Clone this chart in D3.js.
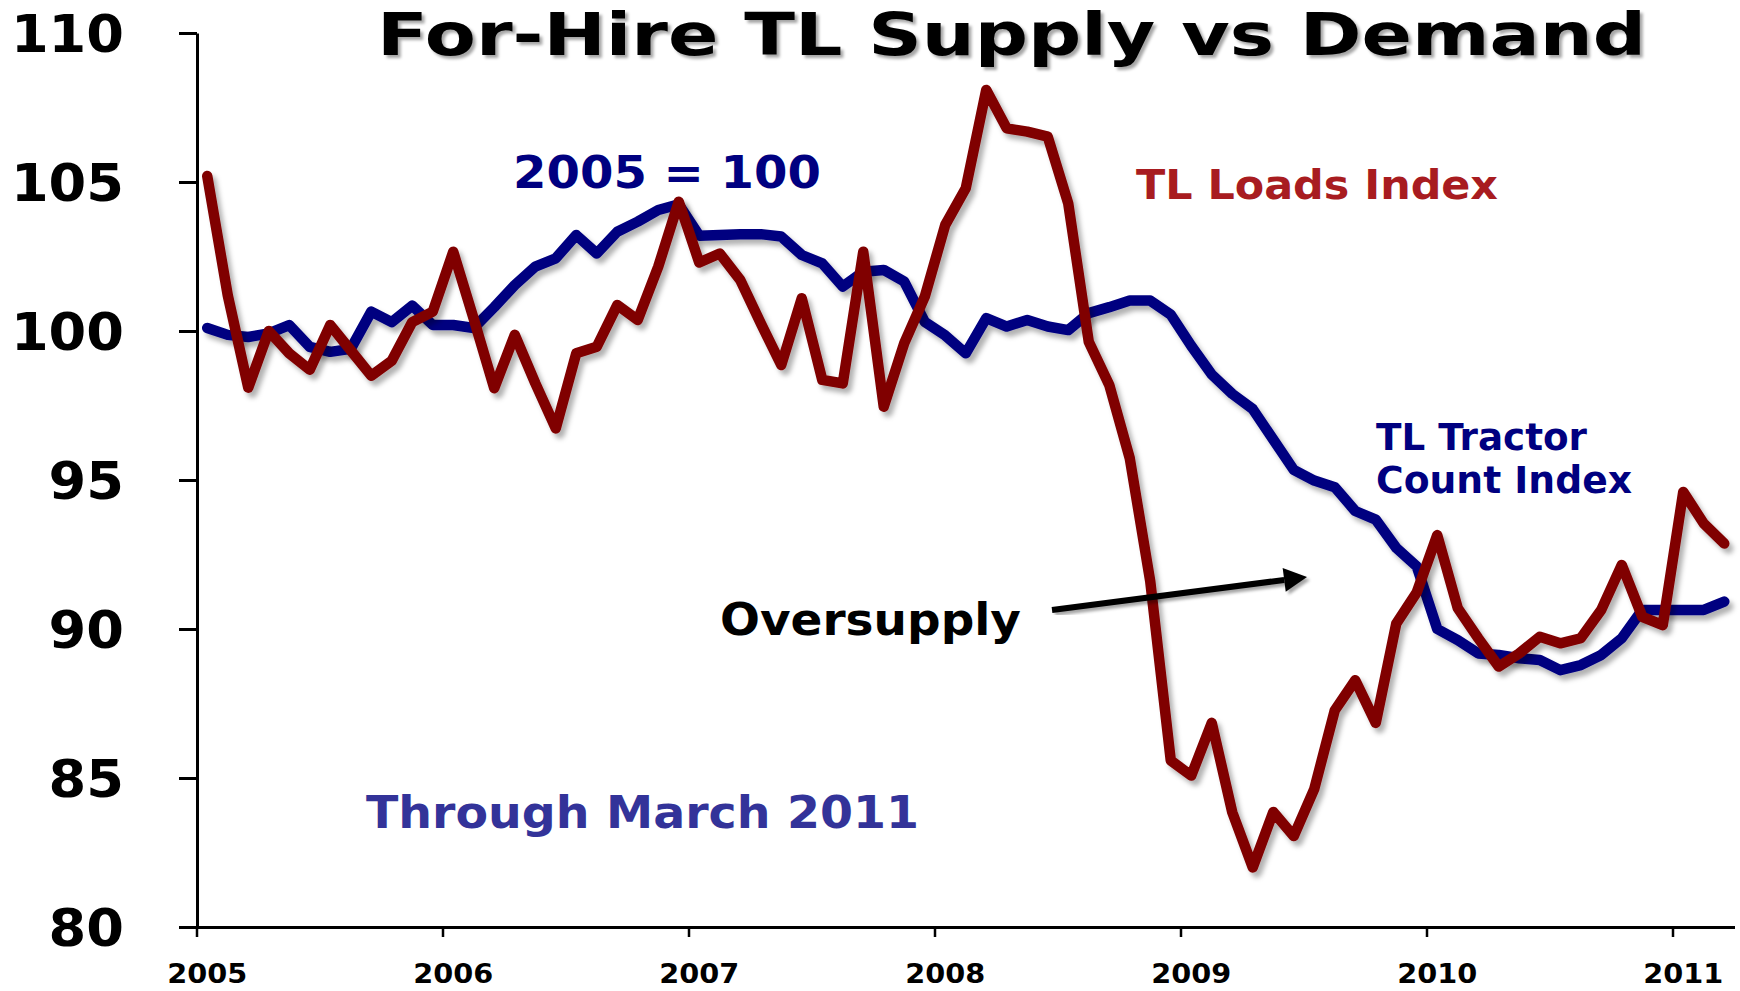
<!DOCTYPE html>
<html>
<head>
<meta charset="utf-8">
<script src="https://cdn.jsdelivr.net/npm/d3@7"></script>
<style>
    body { margin: 0; background: #fff; }
    svg { display: block; font-family: "DejaVu Sans", Verdana, sans-serif; font-weight: bold; }
</style>
</head>
<body>
<div class="chart-container"></div>
<script>
// Chart params
const width = 1740;
const height = 991;

// Year tick labels, monthly categories Jan 2005 .. Mar 2011
const years = ["2005", "2006", "2007", "2008", "2009", "2010", "2011"];
const monthNames = ["01", "02", "03", "04", "05", "06", "07", "08", "09", "10", "11", "12"];
const months = [];
years.forEach(yr => monthNames.forEach(m => months.push(yr + "-" + m)));
months.splice(75); // through March 2011

const yTicks = [80, 85, 90, 95, 100, 105, 110];

// TL Tractor Count Index (2005 = 100)
const tractorCount = [
    100.1, 99.87, 99.8, 99.92, 100.2, 99.47, 99.3, 99.4, 100.65, 100.3,
    100.85, 100.2, 100.2, 100.1, 100.8, 101.54, 102.16, 102.44, 103.22, 102.6,
    103.33, 103.67, 104.06, 104.25, 103.2, 103.22, 103.25, 103.25, 103.17, 102.55,
    102.27, 101.49, 101.99, 102.05, 101.66, 100.31, 99.85, 99.25, 100.43, 100.15,
    100.37, 100.15, 100.03, 100.6, 100.8, 101.02, 101.02, 100.55, 99.5, 98.54,
    97.89, 97.38, 96.36, 95.34, 94.98, 94.76, 93.96, 93.67, 92.72, 92.1,
    90.0, 89.63, 89.18, 89.13, 89.02, 88.96, 88.62, 88.79, 89.13, 89.69,
    90.64, 90.64, 90.64, 90.64, 90.92
];

// TL Loads Index (2005 = 100)
const loadsIndex = [
    105.2, 101.2, 98.1, 100.0, 99.25, 98.7, 100.2, 99.35, 98.5, 99.0,
    100.3, 100.65, 102.66, 100.4, 98.08, 99.87, 98.25, 96.73, 99.25, 99.47,
    100.87, 100.37, 102.16, 104.34, 102.3, 102.6, 101.71, 100.26, 98.86, 101.1,
    98.36, 98.24, 102.66, 97.46, 99.59, 101.15, 103.56, 104.79, 108.09, 106.8,
    106.69, 106.52, 104.28, 99.64, 98.19, 95.73, 91.6, 85.59, 85.08, 86.85,
    83.85, 82.0, 83.86, 83.05, 84.63, 87.27, 88.28, 86.85, 90.18, 91.23,
    93.15, 90.7, 89.69, 88.74, 89.18, 89.74, 89.52, 89.69, 90.64, 92.15,
    90.41, 90.13, 94.6, 93.54, 92.87
];

const svg = d3.select('.chart-container')
    .append('svg')
    .attr('width', width)
    .attr('height', height);

svg.append('rect')
    .attr('width', width)
    .attr('height', height)
    .attr('fill', '#fff');

// Shadows
const defs = svg.append('defs');
defs.append('filter')
    .attr('id', 'lineShadow')
    .attr('x', '-10%').attr('y', '-10%')
    .attr('width', '120%').attr('height', '120%')
    .append('feDropShadow')
    .attr('dx', 4).attr('dy', 5)
    .attr('stdDeviation', 2.5)
    .attr('flood-color', '#000')
    .attr('flood-opacity', 0.3);

defs.append('filter')
    .attr('id', 'textShadow')
    .append('feDropShadow')
    .attr('dx', 3).attr('dy', 3)
    .attr('stdDeviation', 1.5)
    .attr('flood-color', '#000')
    .attr('flood-opacity', 0.35);

// Scales
const x = d3.scaleBand()
    .domain(months)
    .range([197, 1734.5]);

const y = d3.scaleLinear()
    .domain([80, 110])
    .range([927, 33]);

const xc = m => x(m) + x.bandwidth() / 2;

// Y axis
const yAxis = svg.append('g')
    .attr('transform', 'translate(197,0)')
    .call(d3.axisLeft(y)
        .tickValues(yTicks)
        .tickSize(18)
        .tickSizeOuter(0)
        .tickPadding(55));

yAxis.select('.domain').attr('stroke', '#000').attr('stroke-width', 3);
yAxis.selectAll('.tick line').attr('stroke', '#000').attr('stroke-width', 3);
yAxis.selectAll('.tick text')
    .attr('fill', '#000')
    .attr('font-family', '"DejaVu Sans", Verdana, sans-serif')
    .attr('font-weight', 'bold')
    .attr('font-size', 51)
    .attr('dy', '0.36em')
    .attr('textLength', d => String(d).length * 37.7)
    .attr('lengthAdjust', 'spacingAndGlyphs');

// X axis, ticks at year boundaries, labels under January
const xAxis = svg.append('g')
    .attr('transform', 'translate(0,927)')
    .call(d3.axisBottom(x)
        .tickValues(months.filter((m, i) => i % 12 === 0))
        .tickFormat(m => m.slice(0, 4))
        .tickSize(10)
        .tickSizeOuter(0));

xAxis.select('.domain').attr('stroke', '#000').attr('stroke-width', 3);
xAxis.selectAll('.tick line')
    .attr('stroke', '#000')
    .attr('stroke-width', 2.5)
    .attr('transform', `translate(${-x.bandwidth() / 2},0)`);
xAxis.selectAll('.tick text')
    .attr('fill', '#000')
    .attr('font-family', '"DejaVu Sans", Verdana, sans-serif')
    .attr('font-weight', 'bold')
    .attr('font-size', 26)
    .attr('y', 56)
    .attr('dy', 0)
    .attr('textLength', 80)
    .attr('lengthAdjust', 'spacingAndGlyphs');

// Series lines
const line = d3.line()
    .x((d, i) => xc(months[i]))
    .y(d => y(d));

svg.append('path')
    .datum(tractorCount)
    .attr('class', 'tractor-line')
    .attr('fill', 'none')
    .attr('stroke', '#000080')
    .attr('stroke-width', 10.5)
    .attr('stroke-linejoin', 'round')
    .attr('stroke-linecap', 'round')
    .attr('filter', 'url(#lineShadow)')
    .attr('d', line);

svg.append('path')
    .datum(loadsIndex)
    .attr('class', 'loads-line')
    .attr('fill', 'none')
    .attr('stroke', '#800000')
    .attr('stroke-width', 10.5)
    .attr('stroke-linejoin', 'round')
    .attr('stroke-linecap', 'round')
    .attr('filter', 'url(#lineShadow)')
    .attr('d', line);

// Title
svg.append('text')
    .attr('x', 377)
    .attr('y', 55)
    .attr('font-size', 59)
    .attr('fill', '#000')
    .attr('textLength', 1269)
    .attr('lengthAdjust', 'spacingAndGlyphs')
    .attr('filter', 'url(#textShadow)')
    .text('For-Hire TL Supply vs Demand');

// Annotations
function addLabel(txt, xPos, yPos, size, color, len) {
    svg.append('text')
        .attr('x', xPos)
        .attr('y', yPos)
        .attr('font-size', size)
        .attr('fill', color)
        .attr('textLength', len)
        .attr('lengthAdjust', 'spacingAndGlyphs')
        .text(txt);
}

addLabel('2005 = 100', 513, 188, 45, '#000080', 308);
addLabel('TL Loads Index', 1136, 199, 40, '#A81C20', 362);
addLabel('TL Tractor', 1376, 450, 37, '#000080', 211);
addLabel('Count Index', 1376, 493, 37, '#000080', 256);
addLabel('Oversupply', 720, 635, 44, '#000', 301);
addLabel('Through March 2011', 366, 828, 45, '#333399', 553);

// Oversupply arrow
const ax0 = 1052, ay0 = 610, ax1 = 1307, ay1 = 577;
const ang = Math.atan2(ay1 - ay0, ax1 - ax0);
const headLen = 23, headHalf = 12;
const bx = ax1 - headLen * Math.cos(ang), by = ay1 - headLen * Math.sin(ang);

const arrow = svg.append('g').attr('filter', 'url(#textShadow)');
arrow.append('line')
    .attr('x1', ax0).attr('y1', ay0)
    .attr('x2', bx).attr('y2', by)
    .attr('stroke', '#000')
    .attr('stroke-width', 6);
arrow.append('path')
    .attr('fill', '#000')
    .attr('d', `M${ax1},${ay1}` +
        `L${bx - headHalf * Math.sin(ang)},${by + headHalf * Math.cos(ang)}` +
        `L${bx + headHalf * Math.sin(ang)},${by - headHalf * Math.cos(ang)}Z`);
</script>
</body>
</html>
